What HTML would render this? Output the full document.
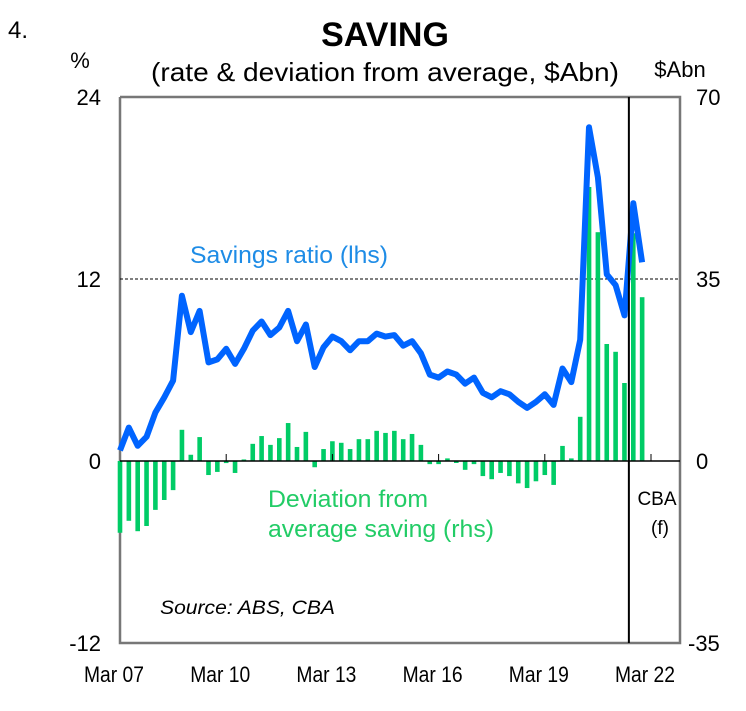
<!DOCTYPE html>
<html><head><meta charset="utf-8"><style>
body{margin:0;background:#fff;}
svg text{font-family:"Liberation Sans",Arial,sans-serif;}
</style></head><body>
<svg id="chart" width="746" height="706" viewBox="0 0 746 706" xmlns="http://www.w3.org/2000/svg">
<text x="8" y="38" font-size="24">4.</text>
<text x="385" y="46" font-size="34" font-weight="bold" text-anchor="middle">SAVING</text>
<text x="385" y="81" font-size="26" text-anchor="middle" textLength="468" lengthAdjust="spacingAndGlyphs">(rate &amp; deviation from average, $Abn)</text>
<text x="80" y="68" font-size="22" text-anchor="middle">%</text>
<text x="680" y="77" font-size="22" text-anchor="middle">$Abn</text>
<g id="plot"></g>
<text x="190" y="263" font-size="24" fill="#1e8ce6" textLength="198" lengthAdjust="spacingAndGlyphs">Savings ratio (lhs)</text>
<text x="268" y="507" font-size="24" fill="#22cc66" textLength="160" lengthAdjust="spacingAndGlyphs">Deviation from</text>
<text x="268" y="537" font-size="24" fill="#22cc66" textLength="226" lengthAdjust="spacingAndGlyphs">average saving (rhs)</text>
<text x="657" y="505" font-size="19" text-anchor="middle">CBA</text>
<text x="660" y="534" font-size="19" text-anchor="middle">(f)</text>
<text x="160" y="614" font-size="19" font-style="italic" textLength="175" lengthAdjust="spacingAndGlyphs">Source: ABS, CBA</text>
</svg>
<script>
const ratio=[0.7,2.2,1.0,1.6,3.2,4.2,5.3,10.9,8.5,9.9,6.5,6.7,7.4,6.4,7.4,8.6,9.2,8.3,8.8,9.9,7.9,9.0,6.2,7.5,8.2,7.9,7.3,7.9,7.9,8.4,8.2,8.3,7.6,7.9,7.1,5.7,5.5,5.9,5.7,5.1,5.5,4.5,4.2,4.6,4.4,3.9,3.5,3.9,4.4,3.7,6.1,5.2,8.0,22.0,18.7,12.3,11.6,9.6,17.0,13.1];
const deviation=[-13.8,-11.5,-13.5,-12.5,-9.4,-7.5,-5.6,6.0,1.2,4.6,-2.7,-2.1,-0.4,-2.3,0.3,3.3,4.8,3.1,4.4,7.3,2.7,5.6,-1.2,2.3,3.8,3.5,2.3,4.2,4.2,5.8,5.4,5.8,4.2,5.2,3.1,-0.6,-0.6,0.5,-0.1,-1.7,-0.6,-2.9,-3.5,-2.3,-2.9,-4.3,-5.2,-3.9,-2.7,-4.6,2.9,0.5,8.5,52.7,44.0,22.5,21.0,15.0,43.8,31.5];
const xLabels=["Mar 07","Mar 10","Mar 13","Mar 16","Mar 19","Mar 22"];
const leftTicks=[24,12,0,-12];
const rightTicks=[70,35,0,-35];
const forecastStart=57.5;

const NS="http://www.w3.org/2000/svg";
const g=document.getElementById('plot');
const X0=120,X1=680,QW=8.85,Y0=97,Y1=643;
const xq=q=>X0+q*QW;
const yL=v=>Y0+(24-v)/36*(Y1-Y0);
const yR=v=>Y0+(70-v)/105*(Y1-Y0);
function mk(t,a){const e=document.createElementNS(NS,t);for(const k in a)e.setAttribute(k,a[k]);g.appendChild(e);return e;}

const frame=mk('path',{d:`M${X0} ${Y0}V${Y1}H${X1}V${Y0}H${X0}`,fill:'none',stroke:'#777',"stroke-width":2.5});


const dash=mk('line',{x1:X0,x2:X1,y1:yL(12),y2:yL(12),stroke:'#000',"stroke-width":1,"stroke-dasharray":"3,2"});



deviation.forEach((v,i)=>{
  const y=yR(v),z=yR(0);
  const b=mk('rect',{x:xq(i)-2.3,y:Math.min(y,z),width:4.6,height:Math.max(Math.abs(z-y),2),fill:'#00cc66'});
  
  
});
const zero=mk('line',{x1:X0,x2:X1,y1:yL(0),y2:yL(0),stroke:'#000',"stroke-width":1.5});


xLabels.forEach((s,i)=>{
  const x=xq(i*12);
  if(i>0){const t=mk('line',{x1:x,x2:x,y1:yL(0),y2:yL(0)-7,stroke:'#000',"stroke-width":1});
  
  }
  const l=mk('text',{x:x-6,y:682,"font-size":22,"text-anchor":"middle",textLength:60,lengthAdjust:"spacingAndGlyphs"});l.textContent=s;
  
  
});
const pts=ratio.map((v,i)=>`${xq(i).toFixed(1)},${yL(v).toFixed(1)}`).join(' ');
const ln=mk('polyline',{points:pts,fill:'none',stroke:'#0064ff',"stroke-width":6,"stroke-linejoin":"round"});


const vl=mk('line',{x1:xq(forecastStart),x2:xq(forecastStart),y1:Y0,y2:Y1,stroke:'#000',"stroke-width":2});


leftTicks.forEach(v=>{
  const t=mk('text',{x:101,y:yL(v)+8,"font-size":22,"text-anchor":"end"});t.textContent=v;
  
  
});
rightTicks.forEach(v=>{
  const t=mk('text',{x:v<0?688:696,y:yR(v)+8,"font-size":22});t.textContent=v;
  
  
});
</script>
</body></html>
